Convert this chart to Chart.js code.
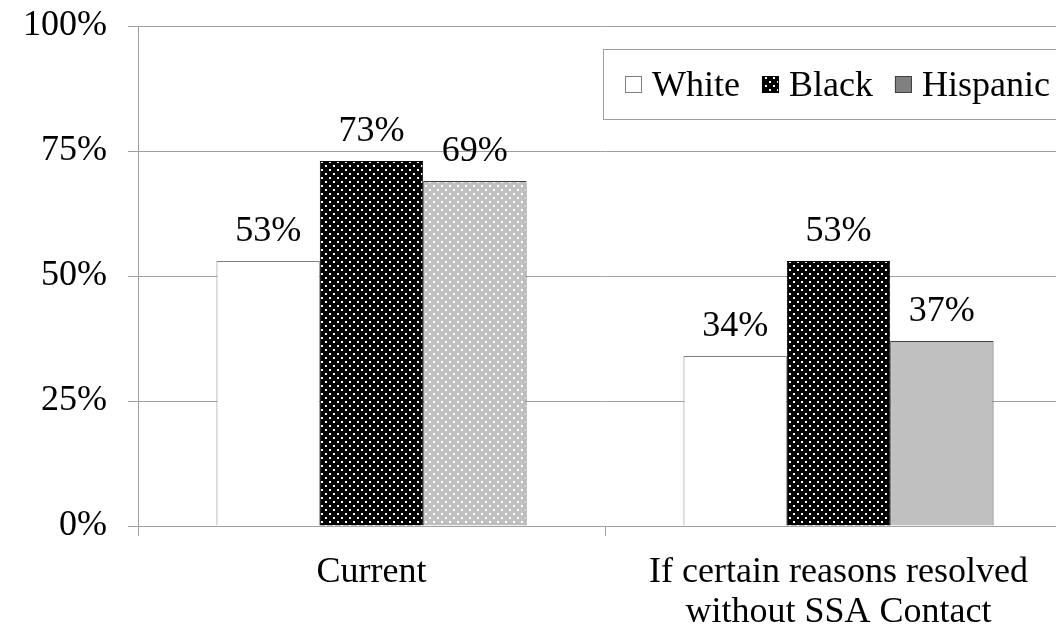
<!DOCTYPE html>
<html>
<head>
<meta charset="utf-8">
<script src="https://cdn.jsdelivr.net/npm/chart.js@4.4.1/dist/chart.umd.min.js"></script>
<style>
  html, body { margin: 0; padding: 0; background: #fff; overflow: hidden; }
  #wrap { width: 1056px; height: 628px; overflow: hidden; position: relative; }
  canvas { display: block; }
</style>
</head>
<body>
<div id="wrap"><canvas id="chart" width="1090" height="628"></canvas></div>
<script>
// Share of beneficiaries, by group
const categories = ['Current', ['If certain reasons resolved', 'without SSA Contact']];
const seriesNames = ['White', 'Black', 'Hispanic'];
const whiteValues = [53, 34];
const blackValues = [73, 53];
const hispanicValues = [69, 37];
const yTickValues = [0, 25, 50, 75, 100];

const FONT = "'Liberation Serif', 'Times New Roman', serif";
const canvas = document.getElementById('chart');
const ctx = canvas.getContext('2d');

// Small staggered white-dot fill
function dotPattern(bg) {
  const c = document.createElement('canvas');
  c.width = 8; c.height = 8;
  const g = c.getContext('2d');
  g.fillStyle = bg;
  g.fillRect(0, 0, 8, 8);
  g.fillStyle = '#ffffff';
  g.fillRect(1, 1, 2, 2);
  g.fillRect(5, 5, 2, 2);
  return ctx.createPattern(c, 'repeat');
}
const blackDots = dotPattern('#000000');
const greyDots = dotPattern('#c0c0c0');

// Value labels above each bar
const valueLabels = {
  id: 'valueLabels',
  afterDatasetsDraw(chart) {
    const c = chart.ctx;
    c.save();
    c.font = '36px ' + FONT;
    c.fillStyle = '#000';
    c.textAlign = 'center';
    c.textBaseline = 'alphabetic';
    chart.data.datasets.forEach((ds, i) => {
      chart.getDatasetMeta(i).data.forEach((bar, j) => {
        c.fillText(ds.data[j] + '%', bar.x, bar.y - 20);
      });
    });
    c.restore();
  }
};

// Boxed legend inside the plot
const boxLegend = {
  id: 'boxLegend',
  afterDraw(chart) {
    const c = chart.ctx;
    const left = 603, top = 49, w = 470, h = 70;
    c.save();
    c.fillStyle = '#fff';
    c.fillRect(left, top, w, h);
    c.strokeStyle = '#a0a0a0';
    c.lineWidth = 1;
    c.strokeRect(left + 0.5, top + 0.5, w, h);
    c.font = '36px ' + FONT;
    c.textBaseline = 'alphabetic';
    c.textAlign = 'left';
    const swatches = ['#ffffff', blackDots, '#808080'];
    const borders = ['#808080', '#000000', '#404040'];
    let x = left + 22;
    const cy = top + 35;
    chart.data.datasets.forEach((ds, i) => {
      c.fillStyle = swatches[i];
      c.fillRect(x, cy - 8, 17, 17);
      c.strokeStyle = borders[i];
      c.strokeRect(x + 0.5, cy - 7.5, 16, 16);
      c.fillStyle = '#000';
      c.fillText(ds.label, x + 27, cy + 12);
      x += 27 + c.measureText(ds.label).width + 22;
    });
    c.restore();
  }
};

new Chart(ctx, {
  type: 'bar',
  data: {
    labels: categories,
    datasets: [
      { label: seriesNames[0], data: whiteValues, backgroundColor: '#ffffff', borderColor: '#808080', borderWidth: 1 },
      { label: seriesNames[1], data: blackValues, backgroundColor: blackDots, borderColor: '#000000', borderWidth: 1 },
      { label: seriesNames[2], data: hispanicValues, backgroundColor: [greyDots, '#c0c0c0'], borderColor: '#404040', borderWidth: 1 }
    ]
  },
  options: {
    responsive: false,
    animation: false,
    devicePixelRatio: 1,
    layout: { padding: { top: 26, right: 18, bottom: 0, left: 0 } },
    datasets: { bar: { categoryPercentage: 0.664, barPercentage: 1.0 } },
    plugins: {
      legend: { display: false },
      tooltip: { enabled: false }
    },
    scales: {
      x: {
        offset: true,
        grid: { offset: true, drawOnChartArea: false, drawTicks: true, tickLength: 10, color: '#a0a0a0', lineWidth: 1 },
        border: { color: '#a0a0a0', width: 1 },
        ticks: { color: '#000', padding: 17, maxRotation: 0, autoSkip: false, font: { family: FONT, size: 36, lineHeight: 1.1 } },
        afterFit(scale) { scale.height = 102; scale.paddingLeft = 0; scale.paddingRight = 0; }
      },
      y: {
        min: 0,
        max: 100,
        afterBuildTicks(scale) { scale.ticks = yTickValues.map(v => ({ value: v })); },
        grid: { color: '#a0a0a0', lineWidth: 1, tickLength: 10 },
        border: { color: '#a0a0a0', width: 1 },
        ticks: { color: '#000', padding: 21, font: { family: FONT, size: 36 }, callback: v => v + '%' },
        afterFit(scale) { scale.width = 138; scale.paddingTop = 0; scale.paddingBottom = 0; }
      }
    }
  },
  plugins: [valueLabels, boxLegend]
});
</script>
</body>
</html>
